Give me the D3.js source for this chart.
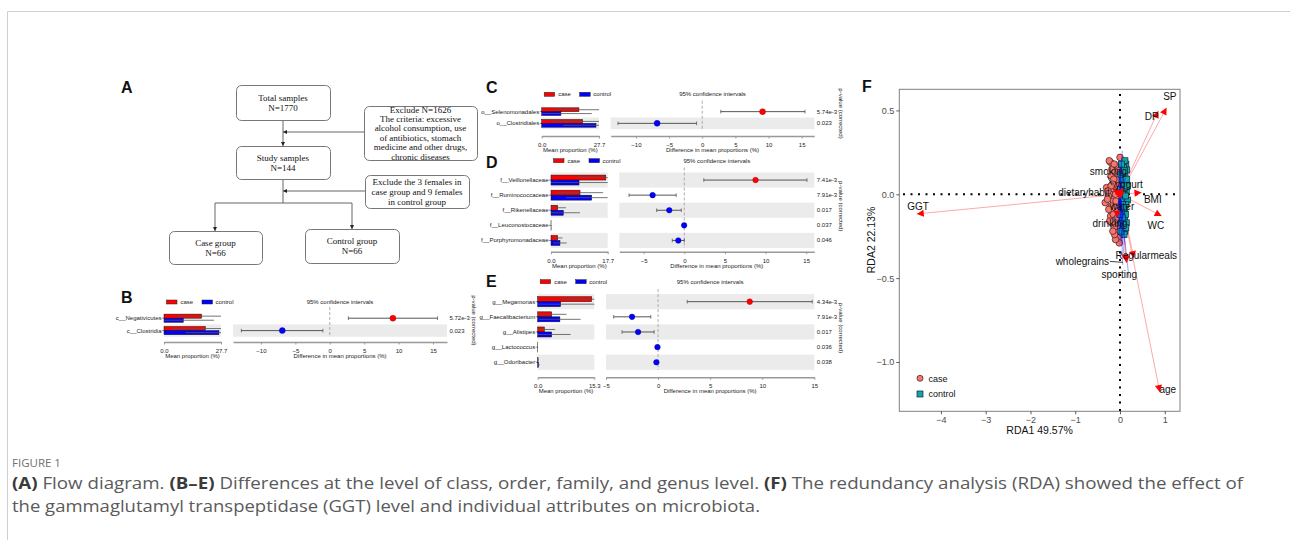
<!DOCTYPE html>
<html>
<head>
<meta charset="utf-8">
<script src="https://cdn.jsdelivr.net/npm/d3@7"></script>
<style>
body { margin: 0; background: #fff; }
svg { display: block; font-family: "Liberation Sans", Arial, sans-serif; }
</style>
</head>
<body>
<svg id="fig" width="1290" height="540"></svg>
<script>
// ---------- data ----------
var flowTotal = ["Total samples", "N=1770"];
var flowExclude1 = ["Exclude N=1626", "The criteria: excessive", "alcohol consumption, use",
  "of antibiotics, stomach", "medicine and other drugs,", "chronic diseases"];
var flowStudy = ["Study samples", "N=144"];
var flowExclude2 = ["Exclude the 3 females in", "case group and 9 females", "in control group"];
var flowCase = ["Case group", "N=66"];
var flowControl = ["Control group", "N=66"];

// B: class
var bTaxa = ["c__Negativicutes", "c__Clostridia"];
var bCaseMean = [18.3, 20.1], bCaseSD = [12.0, 16.0];
var bCtrlMean = [9.4, 26.7], bCtrlSD = [14.9, 16.2];
var bDiff = [9.17, -6.9], bCiLow = [2.7, -12.85], bCiHigh = [15.65, -1.0];
var bPval = ["5.72e-3", "0.023"], bMax = 27.7;

// C: order
var cTaxa = ["o__Selenomonadales", "o__Clostridiales"];
var cCaseMean = [18.0, 19.8], cCaseSD = [11.5, 15.8];
var cCtrlMean = [9.3, 26.25], cCtrlSD = [14.9, 15.8];
var cDiff = [9.1, -6.8], cCiLow = [2.8, -12.7], cCiHigh = [15.5, -0.85];
var cPval = ["5.74e-3", "0.023"], cMax = 27.7;

// D: family
var dTaxa = ["f__Veillonellaceae", "f__Ruminococcaceae", "f__Rikenellaceae", "f__Leuconostocaceae", "f__Porphyromonadaceae"];
var dCaseMean = [17.1, 9.06, 2.08, 0.01, 2.08], dCaseSD = [9.0, 7.2, 2.6, 0.04, 1.5];
var dCtrlMean = [8.75, 12.7, 3.85, 0.02, 2.8], dCtrlSD = [10.0, 8.0, 5.2, 0.04, 2.1];
var dDiff = [8.77, -3.9, -1.85, -0.02, -0.74], dCiLow = [2.4, -6.8, -3.4, -0.05, -1.48], dCiHigh = [15.1, -1.0, -0.37, 0.01, 0.0];
var dPval = ["7.41e-3", "7.91e-3", "0.017", "0.037", "0.046"], dMax = 17.7;

// E: genus
var eTaxa = ["g__Megamonas", "g__Faecalibacterium", "g__Alistipes", "g__Lactococcus", "g__Odoribacter"];
var eCaseMean = [14.6, 3.78, 1.8, 0.01, 0.1], eCaseSD = [8.0, 4.0, 2.9, 0.02, 0.2];
var eCtrlMean = [6.2, 6.0, 3.78, 0.01, 0.2], eCtrlSD = [10.0, 5.6, 5.1, 0.02, 0.4];
var eDiff = [8.8, -2.5, -1.92, -0.06, -0.16], eCiLow = [2.8, -4.26, -3.46, -0.08, -0.25], eCiHigh = [14.8, -0.7, -0.38, -0.04, -0.07];
var ePval = ["4.34e-3", "7.91e-3", "0.017", "0.036", "0.038"], eMax = 15.3;

// F: RDA
var envNames = ["GGT", "SP", "DP", "BMI", "WC", "yogurt", "smoking", "dietaryhabit", "water", "drinking", "Regularmeals", "wholegrains", "sporting", "age"];
var envX = [-4.54, 1.04, 0.855, 0.48, 0.93, 0.06, -0.15, -0.12, 0.0, -0.08, 0.31, 0.13, 0.15, 0.89];
var envY = [-0.117, 0.516, 0.497, 0.01, -0.13, 0.04, 0.035, 0.02, -0.03, -0.14, -0.38, -0.40, -0.41, -1.18];

var caseX = [-0.21, -0.24, 0.0, -0.18, -0.12, -0.2, -0.11, -0.15, -0.3, -0.22, -0.26, -0.33, -0.15, -0.19, -0.11,
  -0.25, -0.21, -0.15, -0.09, -0.18, -0.06, -0.13, -0.08, -0.04, -0.015, -0.1, -0.05, -0.08, -0.14, -0.05,
  -0.02, -0.28, -0.17, -0.07, -0.23, -0.12, -0.03, -0.09, -0.16, -0.2, -0.06, -0.27, -0.13, -0.04, -0.1];
var caseY = [0.19, 0.2, 0.22, 0.15, 0.13, 0.11, 0.07, 0.03, 0.04, 0.0, -0.01, -0.05, -0.04, -0.07, -0.08,
  -0.09, -0.13, -0.12, -0.15, -0.17, -0.19, -0.2, -0.23, -0.26, -0.29, -0.27, 0.09, 0.17, 0.09, -0.1,
  -0.05, -0.03, 0.06, 0.03, -0.16, -0.24, 0.14, -0.04, -0.22, 0.05, -0.14, 0.02, 0.18, 0.05, 0.0];
var ctrlX = [0.13, 0.15, 0.11, 0.17, 0.11, 0.07, 0.07, 0.11, 0.08, 0.12, 0.05, 0.14, 0.09, 0.04, 0.13, 0.06,
  0.1, 0.03, 0.08, 0.02, 0.1, 0.15, 0.06, 0.12, 0.04, 0.09, 0.14, 0.02, 0.07, 0.11, 0.01, 0.16, 0.05, 0.03,
  0.13, 0.08, 0.0, 0.06, 0.1, 0.12];
var ctrlY = [0.18, 0.145, 0.11, -0.034, -0.083, -0.13, -0.21, -0.22, 0.16, 0.06, 0.09, 0.02, 0.0, -0.03, -0.06, -0.06,
  -0.15, -0.17, -0.19, 0.12, 0.04, 0.09, 0.13, -0.12, -0.1, -0.24, -0.17, -0.22, 0.05, 0.2, 0.03, 0.05, -0.14, 0.18,
  -0.2, -0.08, -0.12, 0.0, 0.14, -0.01];
var speciesX = [0.05, 0.03, 0.08, -0.02, 0.06, 0.1, -0.05, 0.02, 0.12, -0.04, 0.07, 0.03, 0.1, 0.05, -0.02, 0.15,
  0.2, 0.08, 0.0, -0.08, -0.1, 0.04, 0.09, 0.13, -0.06, 0.06, 0.11, 0.01];
var speciesY = [0.26, 0.2, 0.15, 0.18, 0.1, 0.05, 0.12, 0.08, -0.05, -0.08, -0.12, -0.2, -0.22, -0.28, -0.25, -0.18,
  -0.5, -0.35, -0.3, 0.05, -0.15, 0.02, -0.02, 0.1, -0.2, -0.42, -0.3, 0.14];

var captionLine1 = [["(A)", true], [" Flow diagram. ", false], ["(B\u2013E)", true],
  [" Differences at the level of class, order, family, and genus level. ", false], ["(F)", true],
  [" The redundancy analysis (RDA) showed the effect of", false]];
var captionLine2 = "the gammaglutamyl transpeptidase (GGT) level and individual attributes on microbiota.";

// ---------- drawing ----------
var svg = d3.select("#fig");
var red = "#FF0000", blue = "#0000FF";

svg.append("path")
  .attr("d", "M7.5,540 V11.5 H1290")
  .attr("fill", "none").attr("stroke", "#cfcfcf");

function panelLabel(t, x, y) {
  svg.append("text").attr("x", x).attr("y", y).text(t)
    .style("font-size", "16px").style("font-weight", "700").attr("fill", "#111");
}
panelLabel("A", 121, 93);
panelLabel("B", 121, 303);
panelLabel("C", 486, 93);
panelLabel("D", 486, 168);
panelLabel("E", 486, 287);
panelLabel("F", 862, 92);

// ---- A: flow diagram ----
var defs = svg.append("defs");
defs.append("marker").attr("id", "arr")
  .attr("viewBox", "0 0 10 10").attr("refX", 10).attr("refY", 5)
  .attr("markerWidth", 4).attr("markerHeight", 4).attr("markerUnits", "userSpaceOnUse")
  .attr("orient", "auto")
  .append("path").attr("d", "M0,0 L10,5 L0,10 z").attr("fill", "#222");

var flow = svg.append("g").style("font-family", "'Liberation Serif', 'Times New Roman', serif");
function box(lines, x, y, w, h, lh) {
  flow.append("rect").attr("x", x + 0.5).attr("y", y + 0.5).attr("width", w).attr("height", h)
    .attr("rx", 5).attr("fill", "#fff").attr("stroke", "#777").attr("stroke-width", 1);
  var cy = y + h / 2 - (lines.length - 1) * lh / 2;
  flow.selectAll(null).data(lines).enter().append("text")
    .attr("x", x + w / 2).attr("y", function(d, i) { return cy + i * lh + 3; })
    .attr("text-anchor", "middle").style("font-size", "9px").attr("fill", "#111")
    .text(function(d) { return d; });
}
function link(x1, y1, x2, y2, arrow) {
  var l = flow.append("line").attr("x1", x1).attr("y1", y1).attr("x2", x2).attr("y2", y2)
    .attr("stroke", "#666").attr("stroke-width", 1);
  if (arrow) l.attr("marker-end", "url(#arr)");
}
link(283, 120, 283, 146, true);
link(364, 132, 283, 132, true);
link(283, 179, 283, 203, false);
link(365, 191, 283, 191, true);
link(215, 203, 352, 203, false);
link(215, 203, 215, 231, true);
link(352, 203, 352, 229, true);
box(flowTotal, 236, 85, 94, 35, 10);
box(flowExclude1, 364, 106, 113, 54, 9.4);
box(flowStudy, 236, 146, 94, 33, 10);
box(flowExclude2, 365, 175, 104, 33, 10);
box(flowCase, 169, 231, 93, 33, 10);
box(flowControl, 305, 229, 94, 34, 10);

// ---- B-E: extended error bar plots ----
function drawStamp(d, L) {
  var g = svg.append("g").style("font-size", "6px");
  var n = d.taxa.length;
  var y = d3.scaleBand().domain(d.taxa).range([L.top, L.top + n * L.rowH]);
  var xp = d3.scaleLinear().domain([0, d.max]).range([L.x0, L.x1]);
  var xd = d3.scaleLinear().domain(L.dom).range([L.r0, L.r1]);
  var bh = L.rowH * 0.33;

  // shaded rows
  d.taxa.forEach(function(t, i) {
    if ((n - 1 - i) % 2 === 0) {
      g.append("rect").attr("x", L.x0).attr("y", y(t)).attr("width", L.x1 - L.x0).attr("height", L.rowH).attr("fill", "#EBEBEB");
      g.append("rect").attr("x", L.r0).attr("y", y(t)).attr("width", L.r1 - L.r0).attr("height", L.rowH).attr("fill", "#EBEBEB");
    }
  });

  // legend
  var lg = g.append("g");
  lg.append("rect").attr("x", L.x0 + 2.5).attr("y", L.legY - 2).attr("width", 10.5).attr("height", 4)
    .attr("fill", red).attr("stroke", "#222").attr("stroke-width", 0.5);
  lg.append("text").attr("x", L.x0 + 16.5).attr("y", L.legY + 2).text("case").attr("fill", "#222");
  lg.append("rect").attr("x", L.x0 + 38).attr("y", L.legY - 2).attr("width", 10.5).attr("height", 4)
    .attr("fill", blue).attr("stroke", "#222").attr("stroke-width", 0.5);
  lg.append("text").attr("x", L.x0 + 51.5).attr("y", L.legY + 2).text("control").attr("fill", "#222");
  g.append("text").attr("x", (L.r0 + L.r1) / 2).attr("y", L.legY + 2).attr("text-anchor", "middle")
    .text("95% confidence intervals").attr("fill", "#222");

  // row labels
  g.selectAll(".lab").data(d.taxa).enter().append("text")
    .attr("x", L.x0 - 2.5).attr("y", function(t) { return y(t) + L.rowH / 2 + 2; })
    .attr("text-anchor", "end").attr("fill", "#222").text(function(t) { return t; });
  g.selectAll(".tk").data(d.taxa).enter().append("line")
    .attr("x1", L.x0 - 2).attr("x2", L.x0).attr("y1", function(t) { return y(t) + L.rowH / 2; })
    .attr("y2", function(t) { return y(t) + L.rowH / 2; }).attr("stroke", "#444").attr("stroke-width", 0.6);

  // bars
  function bars(means, sds, color, off) {
    g.selectAll(null).data(d.taxa).enter().append("rect")
      .attr("x", L.x0).attr("y", function(t) { return y(t) + L.rowH / 2 + off; })
      .attr("width", function(t, i) { return xp(means[i]) - L.x0; }).attr("height", bh)
      .attr("fill", color).attr("stroke", "#111").attr("stroke-width", 0.5);
    g.selectAll(null).data(d.taxa).enter().append("line")
      .attr("x1", function(t, i) { return xp(Math.max(0, means[i] - sds[i])); })
      .attr("x2", function(t, i) { return xp(Math.min(d.max, means[i] + sds[i])); })
      .attr("y1", function(t) { return y(t) + L.rowH / 2 + off + bh / 2; })
      .attr("y2", function(t) { return y(t) + L.rowH / 2 + off + bh / 2; })
      .attr("stroke", "#555").attr("stroke-width", 1).attr("opacity", 0.8);
  }
  bars(d.caseMean, d.caseSD, red, -bh);
  bars(d.ctrlMean, d.ctrlSD, blue, 0);

  // zero line
  g.append("line").attr("x1", xd(0)).attr("x2", xd(0)).attr("y1", L.top - 5).attr("y2", L.top + n * L.rowH)
    .attr("stroke", "#999").attr("stroke-width", 0.8).attr("stroke-dasharray", "3,2");

  // confidence intervals
  var ci = g.selectAll(null).data(d.taxa).enter().append("g")
    .attr("transform", function(t) { return "translate(0," + (y(t) + L.rowH / 2) + ")"; });
  ci.append("line").attr("x1", function(t, i) { return xd(d.ciLow[i]); }).attr("x2", function(t, i) { return xd(d.ciHigh[i]); })
    .attr("stroke", "#555").attr("stroke-width", 1);
  ci.append("line").attr("x1", function(t, i) { return xd(d.ciLow[i]); }).attr("x2", function(t, i) { return xd(d.ciLow[i]); })
    .attr("y1", -1.8).attr("y2", 1.8).attr("stroke", "#555").attr("stroke-width", 0.8);
  ci.append("line").attr("x1", function(t, i) { return xd(d.ciHigh[i]); }).attr("x2", function(t, i) { return xd(d.ciHigh[i]); })
    .attr("y1", -1.8).attr("y2", 1.8).attr("stroke", "#555").attr("stroke-width", 0.8);
  ci.append("circle").attr("cx", function(t, i) { return xd(d.diff[i]); }).attr("r", L.r)
    .attr("fill", function(t, i) { return d.diff[i] > 0 ? red : blue; })
    .attr("stroke", function(t, i) { return d.diff[i] > 0 ? "#900" : "#009"; }).attr("stroke-width", 0.4);

  // p-values
  g.selectAll(null).data(d.pval).enter().append("text")
    .attr("x", L.r1 + 2.5).attr("y", function(p, i) { return y(d.taxa[i]) + L.rowH / 2 + 2; })
    .attr("fill", "#222").text(function(p) { return p; });
  g.append("text").attr("transform", "translate(" + (L.r1 + 25) + "," + (L.top + n * L.rowH / 2 - 4) + ") rotate(90)")
    .attr("text-anchor", "middle").attr("fill", "#222").text("p-value (corrected)");

  // axes
  function styleAxis(sel) {
    sel.select(".domain").attr("stroke", "#999").attr("stroke-width", 1.5);
    sel.selectAll(".tick line").attr("stroke", "#999");
    sel.selectAll(".tick text").attr("fill", "#222").style("font-size", "6px").attr("dy", "0.9em");
  }
  g.append("g").attr("transform", "translate(0," + L.axisY + ")")
    .call(d3.axisBottom(xp).tickValues([0, d.max]).tickFormat(d3.format(".1f")).tickSize(2.5).tickSizeOuter(0))
    .call(styleAxis);
  g.append("g").attr("transform", "translate(0," + L.axisY + ")")
    .call(d3.axisBottom(xd).tickValues(L.ticks).tickFormat(d3.format("d")).tickSize(2.5).tickSizeOuter(0))
    .call(styleAxis);
  g.append("text").attr("x", (L.x0 + L.x1) / 2).attr("y", L.axisY + 16).attr("text-anchor", "middle")
    .attr("fill", "#222").text("Mean proportion (%)");
  g.append("text").attr("x", (L.r0 + L.r1) / 2).attr("y", L.axisY + 16).attr("text-anchor", "middle")
    .attr("fill", "#222").text("Difference in mean proportions (%)");
}

drawStamp({ taxa: bTaxa, caseMean: bCaseMean, caseSD: bCaseSD, ctrlMean: bCtrlMean, ctrlSD: bCtrlSD,
  diff: bDiff, ciLow: bCiLow, ciHigh: bCiHigh, pval: bPval, max: bMax },
  { x0: 164, x1: 221, r0: 233, r1: 447, top: 312, rowH: 12.4, axisY: 342, legY: 302,
    dom: [-14.06, 17.03], ticks: [-10, -5, 0, 5, 10, 15], r: 3 });
drawStamp({ taxa: cTaxa, caseMean: cCaseMean, caseSD: cCaseSD, ctrlMean: cCtrlMean, ctrlSD: cCtrlSD,
  diff: cDiff, ciLow: cCiLow, ciHigh: cCiHigh, pval: cPval, max: cMax },
  { x0: 541.7, x1: 599, r0: 610.7, r1: 814.3, top: 105.8, rowH: 11.7, axisY: 136, legY: 94.3,
    dom: [-13.8, 16.9], ticks: [-10, -5, 0, 5, 10, 15], r: 3 });
drawStamp({ taxa: dTaxa, caseMean: dCaseMean, caseSD: dCaseSD, ctrlMean: dCtrlMean, ctrlSD: dCtrlSD,
  diff: dDiff, ciLow: dCiLow, ciHigh: dCiHigh, pval: dPval, max: dMax },
  { x0: 551, x1: 607.7, r0: 619.3, r1: 814.3, top: 172.5, rowH: 15.1, axisY: 251.7, legY: 160.7,
    dom: [-8, 16], ticks: [-5, 0, 5, 10, 15], r: 2.8 });
drawStamp({ taxa: eTaxa, caseMean: eCaseMean, caseSD: eCaseSD, ctrlMean: eCtrlMean, ctrlSD: eCtrlSD,
  diff: eDiff, ciLow: eCiLow, ciHigh: eCiHigh, pval: ePval, max: eMax },
  { x0: 537.7, x1: 594.3, r0: 606, r1: 814.3, top: 294.1, rowH: 15.15, axisY: 377.3, legY: 281.7,
    dom: [-5, 15], ticks: [-5, 0, 5, 10, 15], r: 2.8 });

// ---- F: RDA biplot ----
var fx = d3.scaleLinear().domain([-4.93, 1.34]).range([899.3, 1180]);
var fy = d3.scaleLinear().domain([-1.294, 0.626]).range([411.3, 89.3]);
var fg = svg.append("g");
fg.append("clipPath").attr("id", "fclip").append("rect")
  .attr("x", 899.3).attr("y", 89.3).attr("width", 1180 - 899.3).attr("height", 411.3 - 89.3);
var plot = fg.append("g").attr("clip-path", "url(#fclip)");

plot.append("line").attr("x1", fx(0)).attr("x2", fx(0)).attr("y1", 94).attr("y2", 411)
  .attr("stroke", "#000").attr("stroke-width", 2).attr("stroke-dasharray", "2,5.5");
plot.append("line").attr("x1", 903).attr("x2", 1180).attr("y1", fy(0)).attr("y2", fy(0))
  .attr("stroke", "#000").attr("stroke-width", 2).attr("stroke-dasharray", "2,5.5");

// environmental vectors
plot.selectAll(null).data(envNames).enter().append("line")
  .attr("x1", fx(0)).attr("y1", fy(0))
  .attr("x2", function(n, i) { return fx(envX[i]); }).attr("y2", function(n, i) { return fy(envY[i]); })
  .attr("stroke", "#FF9E9E").attr("stroke-width", 0.9);

// samples
plot.selectAll(null).data(caseX).enter().append("circle")
  .attr("cx", function(v) { return fx(v); }).attr("cy", function(v, i) { return fy(caseY[i]); })
  .attr("r", 3.3).attr("fill", "#F8766D").attr("stroke", "#3a1a1a").attr("stroke-width", 0.7);
plot.selectAll(null).data(ctrlX).enter().append("rect")
  .attr("x", function(v) { return fx(v) - 3; }).attr("y", function(v, i) { return fy(ctrlY[i]) - 3; })
  .attr("width", 6).attr("height", 6).attr("fill", "#12A6AA").attr("stroke", "#123").attr("stroke-width", 0.7);

// species lines
plot.selectAll(null).data(speciesX).enter().append("line")
  .attr("x1", fx(0)).attr("y1", fy(0))
  .attr("x2", function(v) { return fx(v); }).attr("y2", function(v, i) { return fy(speciesY[i]); })
  .attr("stroke", blue).attr("stroke-width", 0.8).attr("opacity", 0.45);

// arrowheads
plot.selectAll(null).data(envNames).enter().append("path")
  .attr("d", "M0,0 L-7,-3.6 L-7,3.6 Z")
  .attr("transform", function(n, i) {
    var px = fx(envX[i]), py = fy(envY[i]);
    var a = Math.atan2(py - fy(0), px - fx(0)) * 180 / Math.PI;
    return "translate(" + px + "," + py + ") rotate(" + a + ")";
  })
  .attr("fill", red);

// labels (pixel offsets from arrow tips)
var labelOffset = { GGT: [1.3, -7.3], SP: [3.3, -11], DP: [-6.6, 5.7], BMI: [11.3, 7.3], WC: [-5.7, 9],
  yogurt: [6.3, -3.3], smoking: [-4.8, -17.4], dietaryhabit: [-30.6, 1.7], water: [2, 7.4],
  drinking: [-6.4, 6.2], Regularmeals: [12.4, -2.6], wholegrains: [-43.5, 0], sporting: [-7.4, 11.9], age: [8, -2.7] };
var leaders = { smoking: [[-6, -12], [-1, -3]], wholegrains: [[-16, 0], [-3, 1]] };
envNames.forEach(function(n, i) {
  var px = fx(envX[i]), py = fy(envY[i]);
  if (leaders[n]) {
    fg.append("line").attr("x1", px + leaders[n][0][0]).attr("y1", py + leaders[n][0][1])
      .attr("x2", px + leaders[n][1][0]).attr("y2", py + leaders[n][1][1])
      .attr("stroke", "#111").attr("stroke-width", 0.8);
  }
  fg.append("text").attr("x", px + labelOffset[n][0]).attr("y", py + labelOffset[n][1] + 3.5)
    .attr("text-anchor", "middle").style("font-size", "10px").attr("fill", "#111").text(n);
});

// panel border and axes
fg.append("rect").attr("x", 899.3).attr("y", 89.3).attr("width", 1180 - 899.3).attr("height", 411.3 - 89.3)
  .attr("fill", "none").attr("stroke", "#808080").attr("stroke-width", 1);
function styleF(sel) {
  sel.select(".domain").remove();
  sel.selectAll(".tick line").attr("stroke", "#333").attr("stroke-width", 0.8);
  sel.selectAll(".tick text").attr("fill", "#4D4D4D").style("font-size", "9px");
}
fg.append("g").attr("transform", "translate(0,411.3)")
  .call(d3.axisBottom(fx).tickValues([-4, -3, -2, -1, 0, 1]).tickFormat(d3.format("d")).tickSize(3).tickPadding(2))
  .call(styleF);
fg.append("g").attr("transform", "translate(899.3,0)")
  .call(d3.axisLeft(fy).tickValues([0.5, 0, -0.5, -1]).tickFormat(d3.format(".1f")).tickSize(3).tickPadding(2))
  .call(styleF);
fg.append("text").attr("x", 1039.6).attr("y", 434).attr("text-anchor", "middle")
  .style("font-size", "10.5px").attr("fill", "#111").text("RDA1 49.57%");
fg.append("text").attr("transform", "translate(875,240) rotate(-90)").attr("text-anchor", "middle")
  .style("font-size", "10.5px").attr("fill", "#111").text("RDA2 22.13%");

// legend
fg.append("circle").attr("cx", 920).attr("cy", 378.3).attr("r", 3).attr("fill", "#F8766D").attr("stroke", "#3a1a1a").attr("stroke-width", 0.7);
fg.append("text").attr("x", 928.5).attr("y", 381.5).style("font-size", "9px").attr("fill", "#111").text("case");
fg.append("rect").attr("x", 917).attr("y", 391).attr("width", 6).attr("height", 6).attr("fill", "#12A6AA").attr("stroke", "#123").attr("stroke-width", 0.7);
fg.append("text").attr("x", 928.5).attr("y", 397.3).style("font-size", "9px").attr("fill", "#111").text("control");

// ---- caption ----
var cap = svg.append("g").style("font-family", "'Open Sans', 'Noto Sans', sans-serif");
cap.append("text").attr("x", 12).attr("y", 467).style("font-size", "11.5px").attr("fill", "#707070").text("FIGURE 1");
var l1 = cap.append("text").attr("x", 12).attr("y", 489).style("font-size", "15.5px").attr("fill", "#5a5a5a")
  .attr("textLength", 1231).attr("lengthAdjust", "spacingAndGlyphs");
captionLine1.forEach(function(p) {
  l1.append("tspan").text(p[0]).style("font-weight", p[1] ? "700" : "400").attr("fill", p[1] ? "#3a3a3a" : "#5a5a5a");
});
cap.append("text").attr("x", 12).attr("y", 512).style("font-size", "15.5px").attr("fill", "#5a5a5a")
  .attr("textLength", 748).attr("lengthAdjust", "spacingAndGlyphs").text(captionLine2);
</script>
</body>
</html>
